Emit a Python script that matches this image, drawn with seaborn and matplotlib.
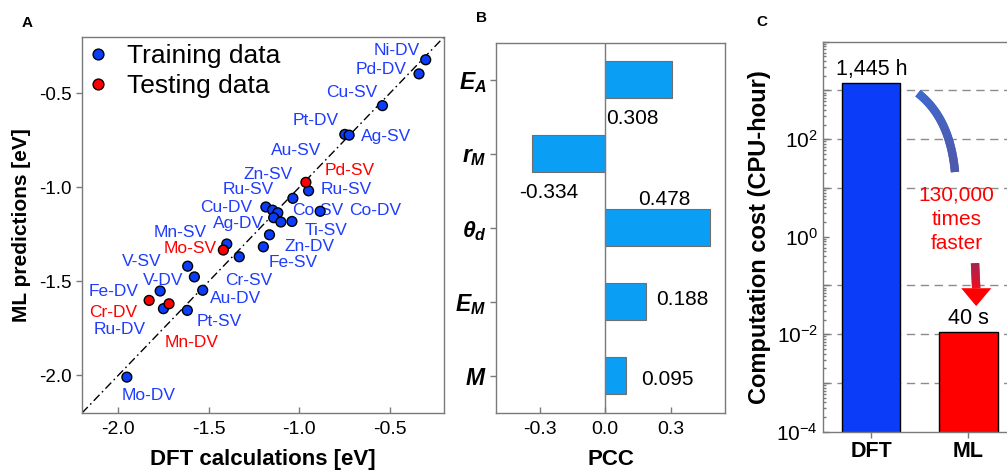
import numpy as np
import pandas as pd
import matplotlib
matplotlib.use("Agg")
import matplotlib.pyplot as plt
import seaborn as sns
from matplotlib.collections import LineCollection
from matplotlib.patches import Polygon
from matplotlib.ticker import FixedLocator, LogLocator, NullFormatter, FuncFormatter

# ---------------- data ----------------
# (A) adsorption energy: DFT vs ML prediction [eV]
train_dft = [-0.301, -0.338, -0.540, -0.748, -0.724, -0.948, -1.035, -0.884,
             -1.184, -1.147, -1.118, -1.141, -1.101, -1.040, -1.164, -1.198,
             -1.400, -1.331, -1.616, -1.579, -1.533, -1.768, -1.750, -1.618,
             -1.952]
train_ml = [-0.321, -0.396, -0.565, -0.718, -0.722, -1.018, -1.058, -1.127,
            -1.104, -1.121, -1.135, -1.161, -1.184, -1.181, -1.252, -1.316,
            -1.301, -1.369, -1.419, -1.476, -1.547, -1.551, -1.645, -1.654,
            -2.009]
test_dft = [-0.963, -1.419, -1.829, -1.719]
test_ml = [-0.973, -1.333, -1.601, -1.619]

train_tags = ["Ni-DV", "Pd-DV", "Cu-SV", "Pt-DV", "Ag-SV", "Au-SV", "Zn-SV",
              "Ru-SV", "Ru-SV", "Cu-DV", "Co-SV", "Co-DV", "Ag-DV", "Ti-SV",
              "Mn-SV", "Zn-DV", "Fe-SV", "V-SV", "V-DV", "Cr-SV", "Fe-DV",
              "Au-DV", "Pt-SV", "Ru-DV", "Mo-DV"]
test_tags = ["Pd-SV", "Mo-SV", "Cr-DV", "Mn-DV"]

# (B) Pearson correlation coefficients of the descriptors
features = [r"$E_A$", r"$r_M$", r"$\theta_d$", r"$E_M$", r"$M$"]
pcc = [0.308, -0.334, 0.478, 0.188, 0.095]

# (C) computational cost in CPU-hours
methods = ["DFT", "ML"]
cost_hours = [1445.0, 40.0 / 3600.0]
cost_text = ["1,445 h", "40 s"]
speedup_text = "130,000\ntimes\nfaster"

# ---------------- label placement (data coordinates) ----------------
train_tag_xy = [(-0.461, -0.271), (-0.547, -0.371), (-0.712, -0.496),
                (-0.909, -0.642), (-0.519, -0.731), (-1.014, -0.806),
                (-1.170, -0.930), (-1.281, -1.012), (-0.739, -1.012),
                (-1.404, -1.106), (-0.895, -1.123), (-0.582, -1.123),
                (-1.333, -1.192), (-0.853, -1.229), (-1.655, -1.239),
                (-0.941, -1.316), (-1.035, -1.400), (-1.870, -1.396),
                (-1.749, -1.494), (-1.279, -1.494), (-2.026, -1.555),
                (-1.351, -1.592), (-1.439, -1.715), (-1.994, -1.754),
                (-1.829, -2.107)]
test_tag_xy = [(-0.720, -0.909), (-1.603, -1.325), (-2.028, -1.666),
               (-1.596, -1.827)]
pcc_text_xy = [(0.005, 0.53, "left"), (-0.257, 1.52, "center"),
               (0.271, 1.62, "center"), (0.354, 2.97, "center"),
               (0.285, 4.05, "center")]

# ---------------- style ----------------
sns.set_theme(style="ticks")
plt.rcParams["font.family"] = ["Liberation Sans", "DejaVu Sans"]
plt.rcParams["axes.unicode_minus"] = False
plt.rcParams["text.color"] = "black"
plt.rcParams["axes.labelcolor"] = "black"
plt.rcParams["xtick.labelcolor"] = "black"
plt.rcParams["ytick.labelcolor"] = "black"
plt.rcParams["mathtext.fontset"] = "custom"
plt.rcParams["mathtext.rm"] = "Liberation Sans"
plt.rcParams["mathtext.it"] = "Liberation Sans:italic:bold"
plt.rcParams["mathtext.bf"] = "Liberation Sans:bold"

BLUE = "#0B3DF8"
RED = "#FF0000"
SKY = "#0B9EF5"
GRAY = "#7a7a7a"

fig = plt.figure(figsize=(10.07, 4.71), dpi=100)
axA = fig.add_axes([0.0814, 0.1231, 0.3595, 0.7983])
axB = fig.add_axes([0.4926, 0.1238, 0.2277, 0.7855])
axC = fig.add_axes([0.8170, 0.0834, 0.1929, 0.8280])

for ax in (axA, axB, axC):
    for sp in ax.spines.values():
        sp.set_color(GRAY)
        sp.set_linewidth(1.0)
    ax.tick_params(color=GRAY, labelcolor="black", width=1.0, length=4)

# ---------------- panel A ----------------
dfA = pd.DataFrame({
    "dft": train_dft + test_dft,
    "ml": train_ml + test_ml,
    "set": ["Training data"] * len(train_dft) + ["Testing data"] * len(test_dft),
})
axA.axline((0, 0), slope=1, color="black", lw=1.0, dashes=(6, 2.5, 1.2, 2.5), zorder=1)
sns.scatterplot(data=dfA, x="dft", y="ml", hue="set",
                palette={"Training data": BLUE, "Testing data": RED},
                s=50, edgecolor="black", linewidth=1.0, ax=axA, zorder=3)
axA.set_xlim(-2.2, -0.2)
axA.set_ylim(-2.2, -0.2)
axA.set_xticks([-2.0, -1.5, -1.0, -0.5])
axA.set_yticks([-2.0, -1.5, -1.0, -0.5])
axA.tick_params(axis="x", direction="in", labelsize=14, pad=6)
axA.tick_params(axis="y", direction="out", labelsize=13.5)
axA.set_xlabel("DFT calculations [eV]", fontsize=16, fontweight="bold", labelpad=8)
axA.set_ylabel("ML predictions [eV]", fontsize=15, fontweight="bold", labelpad=6)
leg = axA.legend(loc="upper left", bbox_to_anchor=(0.0, 0.995), frameon=False,
                 fontsize=19, borderaxespad=0.0, borderpad=0.2, handlelength=0.84,
                 handletextpad=0.66, labelspacing=0.22, markerscale=1.1)
for txt in leg.get_texts():
    txt.set_color("black")

for tag, (tx, ty) in zip(train_tags, train_tag_xy):
    axA.text(tx, ty, tag, color="#1f3cff", fontsize=12.5, ha="center", va="center", zorder=2)
for tag, (tx, ty) in zip(test_tags, test_tag_xy):
    axA.text(tx, ty, tag, color=RED, fontsize=12.5, ha="center", va="center", zorder=2)

# ---------------- panel B ----------------
dfB = pd.DataFrame({"feature": features, "pcc": pcc})
sns.barplot(data=dfB, x="pcc", y="feature", orient="h", color=SKY, saturation=1,
            edgecolor="#6f6f6f", linewidth=0.8, width=0.5, ax=axB, zorder=2)
axB.axvline(0, color=GRAY, lw=1.0, zorder=3)
axB.set_xlim(-0.5, 0.55)
axB.set_ylim(4.5, -0.5)
axB.set_xticks([-0.3, 0.0, 0.3])
axB.set_xticklabels(["-0.3", "0.0", "0.3"])
axB.tick_params(axis="x", direction="in", labelsize=14, pad=6)
axB.tick_params(axis="y", direction="out", labelsize=16.5, pad=3)
axB.set_xlabel("PCC", fontsize=16, fontweight="bold", labelpad=8)
axB.set_ylabel("")
for v, (tx, ty, ha) in zip(pcc, pcc_text_xy):
    axB.text(tx, ty, f"{v:.3f}", fontsize=15, ha=ha, va="center")

# ---------------- panel C ----------------
dfC = pd.DataFrame({"method": methods, "cost": cost_hours})
for e in [3, 2, 1, -1, -2, -3]:
    axC.axhline(10.0 ** e, color="#8c8c8c", lw=1.0, dashes=(6, 4), zorder=0)
sns.barplot(data=dfC, x="method", y="cost", hue="method",
            palette=[BLUE, RED], saturation=1, legend=False,
            edgecolor="black", linewidth=1.0, width=0.6, ax=axC, zorder=2)
axC.set_yscale("log")
axC.set_ylim(1e-4, 1e4)
axC.set_xlim(-0.5, 1.5)
axC.yaxis.set_major_locator(FixedLocator([10.0 ** e for e in range(-4, 5)]))
axC.yaxis.set_major_formatter(FuncFormatter(
    lambda v, _: (r"$10^{%d}$" % round(np.log10(v)))
    if (round(np.log10(v)) % 2 == 0 and round(np.log10(v)) <= 2) else ""))
axC.yaxis.set_minor_locator(LogLocator(base=10, subs=np.arange(2, 10), numticks=100))
axC.yaxis.set_minor_formatter(NullFormatter())
axC.tick_params(axis="y", which="both", direction="in", labelsize=15)
axC.tick_params(axis="y", which="minor", length=2, color=GRAY)
axC.tick_params(axis="x", direction="out", labelsize=15.5, pad=3)
for lab in axC.get_xticklabels():
    lab.set_fontweight("bold")
axC.set_xlabel("")
axC.set_ylabel("Computation cost (CPU-hour)", fontsize=17, fontweight="bold", labelpad=4)
for patch, txt in zip(axC.patches, cost_text):
    axC.annotate(txt, xy=(patch.get_x() + patch.get_width() / 2, patch.get_height()),
                 xytext=(0, 2), textcoords="offset points",
                 ha="center", va="bottom", fontsize=15.5)


def gradient_band(ax, pts, c_start, c_end, width):
    """Thick polyline whose colour fades from c_start to c_end."""
    c_start, c_end = np.asarray(c_start), np.asarray(c_end)
    ax.plot(pts[:, 0], pts[:, 1], color=tuple((c_start + c_end) / 2), lw=width,
            solid_capstyle="butt", transform=ax.transAxes, zorder=4)
    segs = np.stack([pts[:-1], pts[1:]], axis=1)
    f = np.linspace(0, 1, len(segs))
    cols = [tuple(c_start + (c_end - c_start) * s) for s in f]
    ax.add_collection(LineCollection(segs, colors=cols, linewidths=width,
                                     transform=ax.transAxes, capstyle="butt", zorder=5))


# curved band from the DFT level towards the speed-up note
t = np.linspace(0, 1, 60)[:, None]
p0, p1, p2 = np.array([0.490, 0.868]), np.array([0.655, 0.804]), np.array([0.681, 0.666])
curve = (1 - t) ** 2 * p0 + 2 * (1 - t) * t * p1 + t ** 2 * p2
gradient_band(axC, curve, (0.24, 0.42, 0.82), (0.32, 0.34, 0.66), 6.0)

axC.text(0.690, 0.545, speedup_text, transform=axC.transAxes, color=RED,
         fontsize=15, ha="center", va="center", linespacing=1.35, zorder=5)

# straight arrow down to the ML bar
y_start, y_head, y_tip = 0.432, 0.368, 0.322
shaft = np.column_stack([np.linspace(0.784, 0.790, 30), np.linspace(y_start, y_head, 30)])
gradient_band(axC, shaft, (0.62, 0.15, 0.33), (0.95, 0.05, 0.12), 6.0)
axC.add_patch(Polygon([(0.713, y_head), (0.868, y_head), (0.790, y_tip)], closed=True,
                      facecolor=RED, edgecolor="none", transform=axC.transAxes, zorder=5))

# panel letters
fig.text(0.027, 0.951, "A", fontsize=11, fontweight="bold", ha="center", va="center")
fig.text(0.478, 0.961, "B", fontsize=11, fontweight="bold", ha="center", va="center")
fig.text(0.757, 0.953, "C", fontsize=11, fontweight="bold", ha="center", va="center")

fig.savefig("out.png", dpi=100)
